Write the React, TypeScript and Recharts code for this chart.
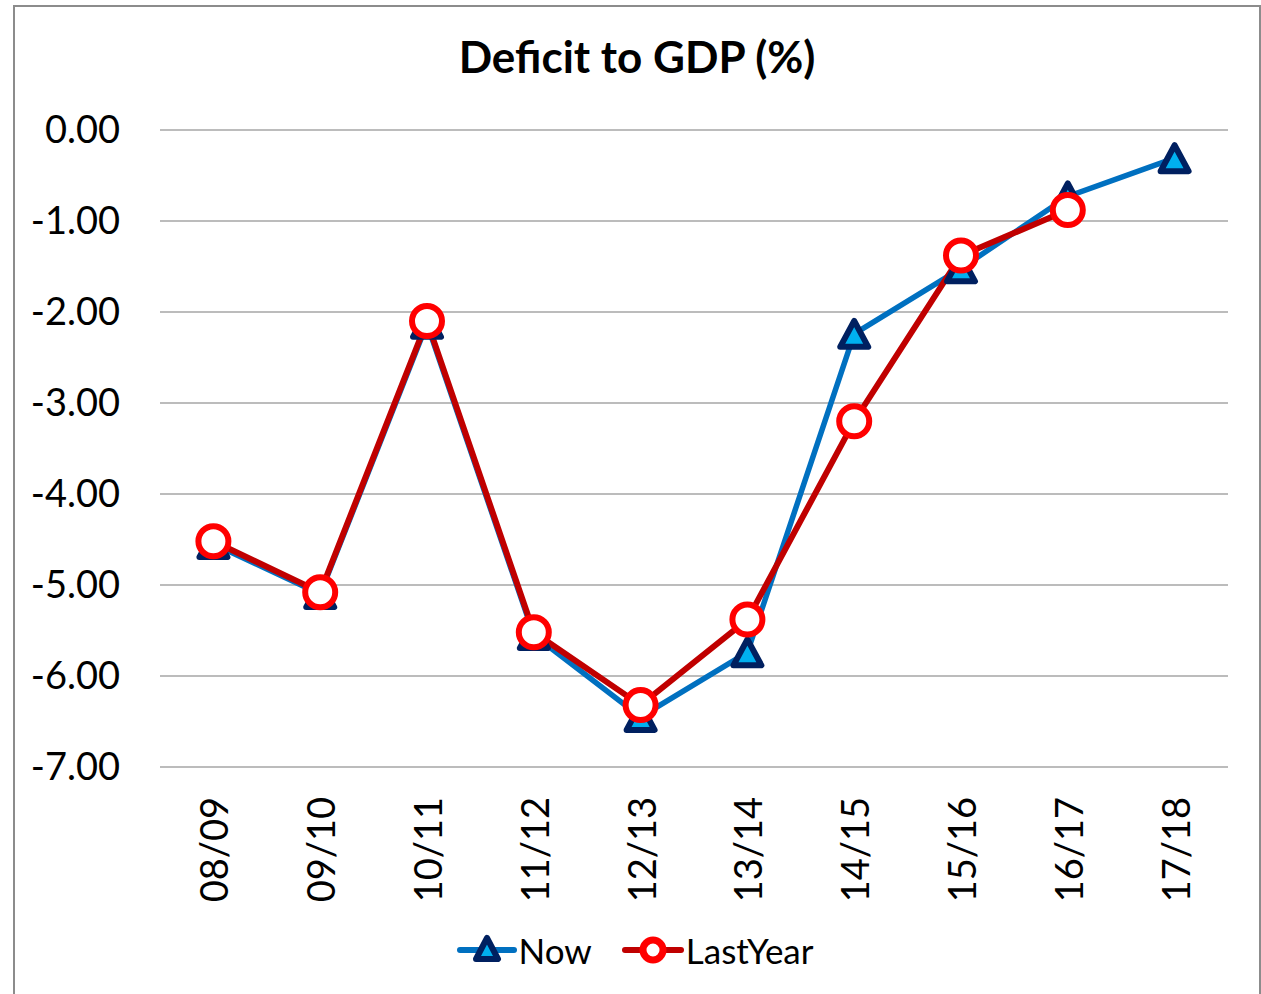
import React from 'react';
import { LineChart, Line, XAxis, YAxis, CartesianGrid, Legend } from 'recharts';

const years = ['08/09', '09/10', '10/11', '11/12', '12/13', '13/14', '14/15', '15/16', '16/17', '17/18'];
const nowValues = [-4.55, -5.1, -2.13, -5.55, -6.45, -5.74, -2.24, -1.52, -0.73, -0.31];
const lastYearValues = [-4.52, -5.08, -2.1, -5.52, -6.32, -5.38, -3.2, -1.38, -0.88, null];
const yTicks = [0, -1, -2, -3, -4, -5, -6, -7];

const data = years.map((y, i) => ({ year: y, Now: nowValues[i], LastYear: lastYearValues[i] }));

const FONT = 'Lato, "Open Sans", sans-serif';
const BLUE = '#0070c0';
const NAVY = '#002060';
const CYAN = '#00b0f0';
const DARK_RED = '#c00000';
const RED = '#ff0000';

const Triangle = ({ cx, cy }: any) => {
    if (cx == null || cy == null) return null;
    return (
        <polygon
            points={`${cx},${cy - 13} ${cx + 14},${cy + 13} ${cx - 14},${cy + 13}`}
            fill={CYAN}
            stroke={NAVY}
            strokeWidth={6}
            strokeLinejoin="round"
        />
    );
};

const Ring = ({ cx, cy, value }: any) => {
    if (cx == null || cy == null || value == null) return null;
    return <circle cx={cx} cy={cy} r={15} fill="#fff" stroke={RED} strokeWidth={6} />;
};

const XTick = ({ x, y, payload }: any) => {
    const ty = y + 22;
    return (
        <text
            x={x}
            y={ty}
            transform={`rotate(-90, ${x}, ${ty})`}
            textAnchor="end"
            dominantBaseline="central"
            fontSize={38}
            fontFamily={FONT}
            fill="#000"
        >
            {payload.value}
        </text>
    );
};

const renderLegend = () => (
    <div style={{ display: 'flex', justifyContent: 'center', alignItems: 'center', height: 40, paddingLeft: 42, fontFamily: FONT, fontSize: 35, color: '#000' }}>
        <svg width={60} height={40}>
            <line x1={3} y1={20} x2={57} y2={20} stroke={BLUE} strokeWidth={6} strokeLinecap="round" />
            <polygon points="30,8 41,29 19,29" fill={CYAN} stroke={NAVY} strokeWidth={6} strokeLinejoin="round" />
        </svg>
        <span style={{ marginLeft: 2, marginRight: 30 }}>Now</span>
        <svg width={62} height={40}>
            <line x1={3} y1={20} x2={59} y2={20} stroke={DARK_RED} strokeWidth={6} strokeLinecap="round" />
            <circle cx={31} cy={20} r={10} fill="#fff" stroke={RED} strokeWidth={7} />
        </svg>
        <span style={{ marginLeft: 2 }}>LastYear</span>
    </div>
);

export default function App() {
    return (
        <div style={{ position: 'absolute', left: 0, top: 0, width: 1261, height: 994, background: '#fff', overflow: 'hidden' }}>
            <div style={{ position: 'absolute', left: 13, top: 5, width: 1248, height: 1010, border: '2px solid #8c8c8c', boxSizing: 'border-box' }} />
            <div style={{ position: 'absolute', left: 0, top: 30, width: 1274, textAlign: 'center', fontFamily: FONT, fontWeight: 'bold', fontSize: 44, color: '#000' }}>
                Deficit to GDP (%)
            </div>
            <div style={{ position: 'absolute', left: 0, top: 0 }}>
                <LineChart width={1261} height={994} data={data} margin={{ top: 130, right: 33, bottom: 24, left: 0 }}>
                    <CartesianGrid vertical={false} stroke="#a6a6a6" strokeWidth={1.5} />
                    <XAxis
                        dataKey="year"
                        axisLine={false}
                        tickLine={false}
                        height={163}
                        padding={{ left: 53.4, right: 53.4 }}
                        tick={<XTick />}
                        interval={0}
                    />
                    <YAxis
                        domain={[-7, 0]}
                        ticks={yTicks}
                        width={160}
                        axisLine={false}
                        tickLine={false}
                        tickMargin={34}
                        tickFormatter={(v: number) => v.toFixed(2)}
                        tick={{ fontSize: 38, fontFamily: FONT, fill: '#000' }}
                        interval={0}
                    />
                    <Legend verticalAlign="bottom" content={renderLegend} />
                    <Line
                        type="linear"
                        dataKey="Now"
                        stroke={BLUE}
                        strokeWidth={5.5}
                        dot={<Triangle />}
                        activeDot={false}
                        isAnimationActive={false}
                    />
                    <Line
                        type="linear"
                        dataKey="LastYear"
                        stroke={DARK_RED}
                        strokeWidth={6}
                        dot={<Ring />}
                        activeDot={false}
                        isAnimationActive={false}
                    />
                </LineChart>
            </div>
        </div>
    );
}
